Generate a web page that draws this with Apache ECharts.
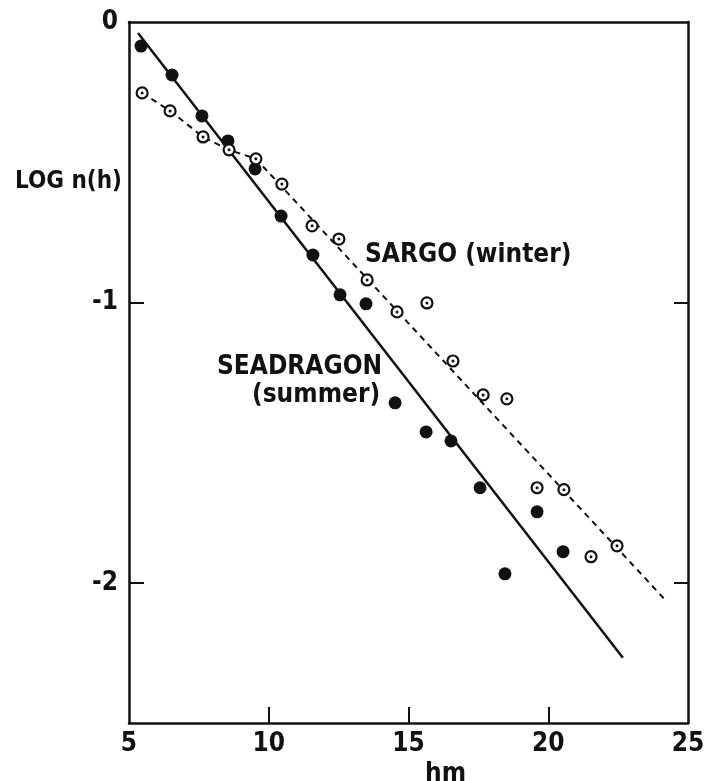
<!DOCTYPE html>
<html>
<head>
<meta charset="utf-8">
<title>LOG n(h)</title>
<script src="https://cdn.jsdelivr.net/npm/echarts@6/dist/echarts.min.js"></script>
<style>
  html, body { margin: 0; padding: 0; background: #fff; }
  #chart { width: 708px; height: 781px; }
</style>
</head>
<body>
<div id="chart"></div>
<script>
// SEADRAGON (summer), filled dots
const seadragonX = [5.43, 6.54, 7.61, 8.54, 9.51, 10.44, 11.58, 12.55, 13.48, 14.52, 15.63, 16.52, 17.56, 18.45, 19.6, 20.53]
const seadragonY = [-0.086, -0.189, -0.335, -0.424, -0.524, -0.692, -0.831, -0.973, -1.005, -1.358, -1.462, -1.494, -1.661, -1.968, -1.747, -1.889]
// SARGO (winter), open circles
const sargoX = [5.47, 6.47, 7.65, 8.58, 9.54, 10.47, 11.55, 12.51, 13.52, 14.59, 15.66, 16.59, 17.67, 18.52, 19.6, 20.56, 21.53, 22.46]
const sargoY = [-0.253, -0.317, -0.41, -0.456, -0.488, -0.578, -0.727, -0.774, -0.92, -1.034, -1.002, -1.209, -1.33, -1.344, -1.661, -1.668, -1.907, -1.868]
// fitted lines
const summerFitX = [5.32, 22.67]
const summerFitY = [-0.039, -2.267]
const winterFitX = [5.47, 6.47, 7.65, 8.58, 9.54, 24.25]
const winterFitY = [-0.253, -0.317, -0.41, -0.456, -0.488, -2.068]
// axis ticks
const xLabels = [5, 10, 15, 20, 25]
const xTicks = [10, 15, 20]
const yLabels = [0, -1, -2]
const yTicks = [-1, -2]

const pairs = (xs, ys) => xs.map((x, i) => [x, ys[i]])

const font = '"DejaVu Sans Condensed", "DejaVu Sans"'
const ink = '#111'

const chart = echarts.init(document.getElementById('chart'))

const axisLine = { show: true, onZero: false, lineStyle: { color: ink, width: 2.5 } }
const labelStyle = { color: ink, fontFamily: font, fontWeight: 'bold', fontSize: 26 }
const textFont = 'bold 26px ' + font

const option = {
  animation: false,
  backgroundColor: '#fff',
  grid: { left: 129, right: 20, top: 22, bottom: 58 },
  xAxis: [
    {
      type: 'value',
      min: 5,
      max: 25,
      position: 'bottom',
      axisLine: axisLine,
      axisTick: { show: true, inside: true, length: 16, customValues: xTicks, lineStyle: { color: ink, width: 2 } },
      axisLabel: Object.assign({ customValues: xLabels, margin: 8 }, labelStyle),
      splitLine: { show: false }
    },
    {
      type: 'value',
      min: 5,
      max: 25,
      position: 'top',
      axisLine: axisLine,
      axisTick: { show: false },
      axisLabel: { show: false },
      splitLine: { show: false }
    }
  ],
  yAxis: [
    {
      type: 'value',
      min: -2.5,
      max: 0,
      position: 'left',
      axisLine: axisLine,
      axisTick: { show: true, inside: true, length: 15, customValues: yTicks, lineStyle: { color: ink, width: 2 } },
      axisLabel: Object.assign({ customValues: yLabels, margin: 11 }, labelStyle),
      splitLine: { show: false }
    },
    {
      type: 'value',
      min: -2.5,
      max: 0,
      position: 'right',
      axisLine: axisLine,
      axisTick: { show: true, inside: true, length: 14, customValues: yTicks, lineStyle: { color: ink, width: 2 } },
      axisLabel: { show: false },
      splitLine: { show: false }
    }
  ],
  series: [
    {
      name: 'summer fit',
      type: 'line',
      data: pairs(summerFitX, summerFitY),
      showSymbol: false,
      lineStyle: { color: ink, width: 2.5 },
      z: 1
    },
    {
      name: 'winter fit',
      type: 'line',
      data: pairs(winterFitX, winterFitY),
      showSymbol: false,
      lineStyle: { color: ink, width: 2, type: [6, 5] },
      z: 1
    },
    {
      name: 'SEADRAGON (summer)',
      type: 'scatter',
      data: pairs(seadragonX, seadragonY),
      symbol: 'circle',
      symbolSize: 13,
      itemStyle: { color: ink, opacity: 1 },
      z: 3
    },
    {
      name: 'SARGO (winter)',
      type: 'scatter',
      data: pairs(sargoX, sargoY),
      symbol: 'circle',
      symbolSize: 11,
      itemStyle: { color: '#fff', borderColor: ink, borderWidth: 2.2, opacity: 1 },
      z: 3
    },
    {
      name: 'SARGO centre',
      type: 'scatter',
      data: pairs(sargoX, sargoY),
      symbol: 'circle',
      symbolSize: 3,
      itemStyle: { color: ink, opacity: 1 },
      z: 4
    }
  ],
  graphic: [
    { type: 'text', x: 15, y: 182, style: { text: 'LOG n(h)', font: 'bold 24px ' + font, fill: ink, verticalAlign: 'middle' } },
    { type: 'text', x: 365, y: 255, style: { text: 'SARGO (winter)', font: textFont, fill: ink, verticalAlign: 'middle' } },
    { type: 'text', x: 217, y: 367, style: { text: 'SEADRAGON', font: textFont, fill: ink, verticalAlign: 'middle' } },
    { type: 'text', x: 252, y: 395, style: { text: '(summer)', font: textFont, fill: ink, verticalAlign: 'middle' } },
    { type: 'text', x: 425, y: 774, style: { text: 'hm', font: textFont, fill: ink, verticalAlign: 'middle' } }
  ]
}

chart.setOption(option)
</script>
</body>
</html>
